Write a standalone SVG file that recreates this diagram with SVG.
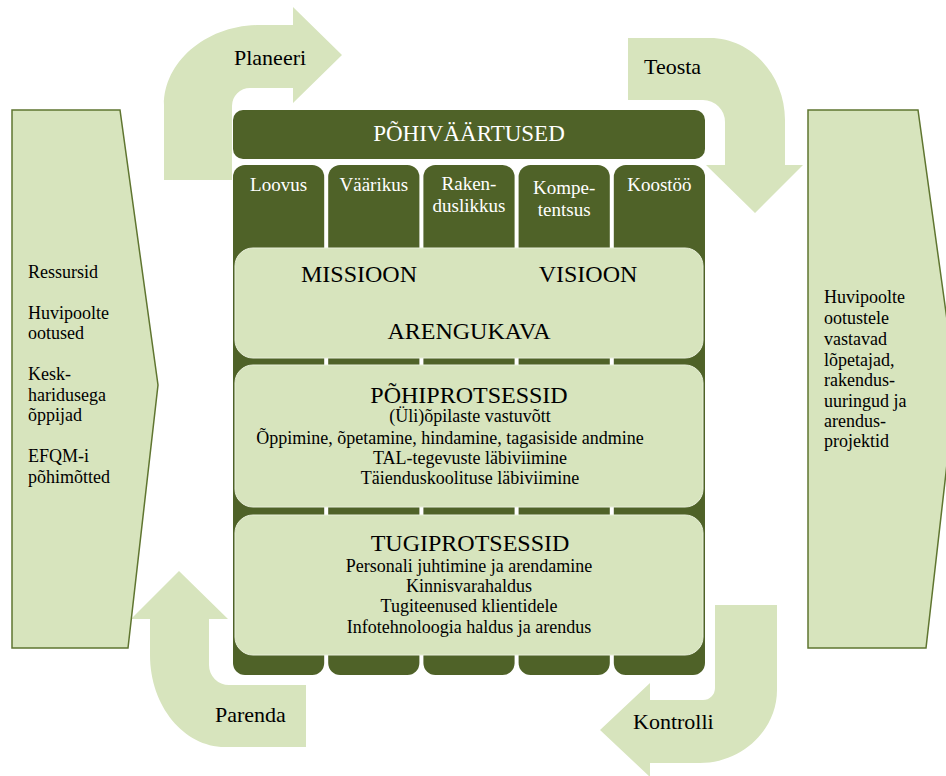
<svg xmlns="http://www.w3.org/2000/svg" width="946" height="776" viewBox="0 0 946 776">
<style>
  .arrow { fill: #d7e4bd; stroke: none; }
  .chev { fill: #d7e4bd; stroke: #5f7530; stroke-width: 1.5; }
  .dark { fill: #4f6228; }
  .light { fill: #d7e4bd; stroke: #e8efd9; stroke-width: 1; }
  .t { font-family: "Liberation Serif", "Times New Roman", serif; fill: #000; }
  .w { font-family: "Liberation Serif", "Times New Roman", serif; fill: #ffffff; }
  .body { font-size: 18px; }
  .big { font-size: 24px; }
  .lab { font-size: 22px; }
  .col { font-size: 19px; }
  .c { text-anchor: middle; }
</style>
<rect width="946" height="776" fill="#ffffff"/>

<g id="connectors">
  <g id="planeeri">
    <path class="arrow" d="M164,180 L164,105 C164,61 207,25 260,25 L293,25 L293,7 L342,55 L293,103 L293,88 L250,88 A18,18 0 0 0 232,106 L232,180 Z"/>
    <text class="t lab" x="234" y="65">Planeeri</text>
  </g>
  <g id="teosta">
    <path class="arrow" d="M628,38 L710,38 C751,38 785,75 785,120 L785,165 L803,165 L755,213 L706,165 L725,165 L725,122 A22,22 0 0 0 703,100 L628,100 Z"/>
    <text class="t lab" x="644" y="74">Teosta</text>
  </g>
  <g id="parenda">
    <path class="arrow" d="M179,571 L228,619 L209,619 L209,665 A20,20 0 0 0 229,685 L306,685 L306,747 L225,747 C184,747 150,706 150,655 L150,619 L131,619 Z"/>
    <text class="t lab" x="215" y="722">Parenda</text>
  </g>
  <g id="kontrolli">
    <path class="arrow" d="M715,605 L777,605 L777,690 C777,730 742,763 700,763 L650,763 L650,777 L600,730 L650,683 L650,700 L703,700 A12,12 0 0 0 715,688 Z"/>
    <text class="t lab" x="633" y="729">Kontrolli</text>
  </g>
</g>

<g id="inputs">
  <polygon class="chev" points="12,110 120,110 158,385 128,648 12,648"/>
  <g class="t body">
    <text x="28" y="278">Ressursid</text>
    <text x="28" y="319">Huvipoolte</text>
    <text x="28" y="339">ootused</text>
    <text x="28" y="380">Kesk-</text>
    <text x="28" y="401">haridusega</text>
    <text x="28" y="421">õppijad</text>
    <text x="28" y="462">EFQM-i</text>
    <text x="28" y="483">põhimõtted</text>
  </g>
</g>

<g id="outputs">
  <polygon class="chev" points="808,110 918,110 956,385 926,648 808,648"/>
  <g class="t body">
    <text x="824" y="303">Huvipoolte</text>
    <text x="824" y="324">ootustele</text>
    <text x="824" y="345">vastavad</text>
    <text x="824" y="366">lõpetajad,</text>
    <text x="824" y="386">rakendus-</text>
    <text x="824" y="407">uuringud ja</text>
    <text x="824" y="427">arendus-</text>
    <text x="824" y="447">projektid</text>
  </g>
</g>

<g id="pohivaartused">
  <rect class="dark" x="233" y="110" width="472" height="49" rx="10"/>
  <text class="w c" x="469" y="141" font-size="23">PÕHIVÄÄRTUSED</text>
</g>

<g id="col-loovus">
  <rect class="dark" x="233" y="165" width="91.2" height="510" rx="12"/>
  <text class="w col c" x="278.6" y="191">Loovus</text>
</g>
<g id="col-vaarikus">
  <rect class="dark" x="328.2" y="165" width="91.2" height="510" rx="12"/>
  <text class="w col c" x="373.8" y="191">Väärikus</text>
</g>
<g id="col-rakenduslikkus">
  <rect class="dark" x="423.4" y="165" width="91.2" height="510" rx="12"/>
  <text class="w col c" x="469" y="190">Raken-</text>
  <text class="w col c" x="469" y="212">duslikkus</text>
</g>
<g id="col-kompetentsus">
  <rect class="dark" x="518.6" y="165" width="91.2" height="510" rx="12"/>
  <text class="w col c" x="564.2" y="194">Kompe-</text>
  <text class="w col c" x="564.2" y="216">tentsus</text>
</g>
<g id="col-koostoo">
  <rect class="dark" x="613.8" y="165" width="91.2" height="510" rx="12"/>
  <text class="w col c" x="659.4" y="191">Koostöö</text>
</g>

<g id="missioon">
  <rect class="light" x="235" y="248" width="468" height="110" rx="18"/>
  <text class="t big c" x="359" y="282">MISSIOON</text>
  <text class="t big c" x="588" y="282">VISIOON</text>
  <text class="t big c" x="469" y="339">ARENGUKAVA</text>
</g>

<g id="pohiprotsessid">
  <rect class="light" x="235" y="365" width="468" height="142" rx="18"/>
  <text class="t big c" x="469" y="403">PÕHIPROTSESSID</text>
  <g class="t body c">
    <text x="470" y="422">(Üli)õpilaste vastuvõtt</text>
    <text x="450" y="444">Õppimine, õpetamine, hindamine, tagasiside andmine</text>
    <text x="470" y="464">TAL-tegevuste läbiviimine</text>
    <text x="470" y="484">Täienduskoolituse läbiviimine</text>
  </g>
</g>

<g id="tugiprotsessid">
  <rect class="light" x="235" y="515" width="468" height="140" rx="18"/>
  <text class="t big c" x="470" y="551">TUGIPROTSESSID</text>
  <g class="t body c">
    <text x="469" y="572">Personali juhtimine ja arendamine</text>
    <text x="469" y="592">Kinnisvarahaldus</text>
    <text x="469" y="612">Tugiteenused klientidele</text>
    <text x="469" y="633">Infotehnoloogia haldus ja arendus</text>
  </g>
</g>
</svg>
